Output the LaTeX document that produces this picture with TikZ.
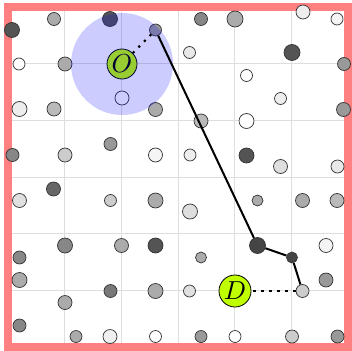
\documentclass[tikz,border=0pt]{standalone}
\usepackage{graphicx}
\definecolor{limefill}{RGB}{191,255,0}
\definecolor{framered}{RGB}{255,128,128}
\definecolor{gridgray}{RGB}{222,222,222}
\begin{document}
\begin{tikzpicture}[x=1pt,y=-1pt,
  dotnode/.style={circle,draw=black!80,line width=0.7pt,inner sep=0pt},
  labelnode/.style={circle,draw=black,line width=0.8pt,fill=limefill,inner sep=0pt,minimum size=30pt},
  pathline/.style={line width=2pt,black},
  dotline/.style={line width=2.2pt,black,dash pattern=on 2.2pt off 5.8pt}]
\useasboundingbox (0,0) rectangle (352,350);
% grid
\foreach \k in {1,...,5}{
  \draw[gridgray,line width=0.9pt] ({8+56.7*\k},7) -- ({8+56.7*\k},347);
  \draw[gridgray,line width=0.9pt] (8,{7+56.7*\k}) -- (348,{7+56.7*\k});
}
% frame
\draw[framered,line width=8pt] (8,7.5) rectangle (347.5,346.5);
% dots
\foreach \n/\x/\y/\r/\k in {
 1/12/30/7.5/67, 2/54/19/6.5/33, 3/110/19/7.5/67, 4/155.5/30/6/40,
 6/19/64/6/0, 7/65/64/7/33, 8/122/98/7/0, 9/19.5/109/7.5/7,
 10/54/109/7/27, 11/155.5/109.5/7/33, 12/201/19/6.5/47, 13/235/19/8/33,
 14/303/12/7/7, 15/337/19/6/4, 16/189.5/52.5/6/9, 17/292/52.5/8/67,
 18/344/64/6.5/40, 19/246.5/75.5/6/0, 20/280.5/98.5/6/7, 21/343.5/109.5/7/40,
 22/201/121/7/27, 23/246.5/121/7.5/0, 24/12.5/155/6.5/47, 25/65/155/7/20,
 26/110.5/144/6.5/40, 27/155.5/155/7/4, 28/19.5/200.5/7/12, 29/53.5/189/7/60,
 30/110.5/200.5/6/20, 31/155.5/200.5/7.5/33, 32/190/155/6/7, 33/246.5/155.5/7.5/67,
 34/280.5/166.5/7/13, 35/337.5/166.5/6.5/9, 36/190/211.5/7.5/13, 37/257.5/200.5/5.5/33,
 38/302.5/200.5/7/33, 39/337/200.5/7/27, 40/65/245.5/7.5/47, 41/121.5/245.5/7/33,
 42/155.5/245.5/7.5/67, 43/19.5/257.5/6.5/47, 44/19.5/280/7.5/33, 45/110.5/291/6.5/53,
 46/155.5/291/7.5/33, 47/65/302.5/7/33, 48/19.5/325.5/6.5/47, 49/76/336.5/6/33,
 50/110/336.5/7/6, 51/155.5/336.5/6/0, 52/257.5/245.5/8/73, 53/201/257.5/5.5/33,
 54/292/257.5/5.5/73, 55/326/245.5/7/4, 56/326/280/7/40, 57/189.5/291/6/12,
 59/302.5/291/6.5/20, 60/201/336.5/6/40, 61/235/336.5/6/0, 62/292/336.5/6.5/20,
 63/337.5/336.5/6.5/40}
 { \node[dotnode,fill=black!\k,minimum size={2*\r pt}] (p\n) at (\x,\y) {}; }
% labelled nodes
\node[labelnode] (O) at (122,64) {\scalebox{2.6}{$O$}};
\node[labelnode,minimum size=32pt] (D) at (235,291) {\scalebox{2.6}{$D$}};
% blue disc
\fill[blue,opacity=0.2] (O.center) circle (51pt);
% path
\draw[dotline] (O) -- (p4);
\draw[pathline] (p4) -- (p52) -- (p54) -- (p59);
\draw[dotline] (p59) -- (D);
\end{tikzpicture}
\end{document}
